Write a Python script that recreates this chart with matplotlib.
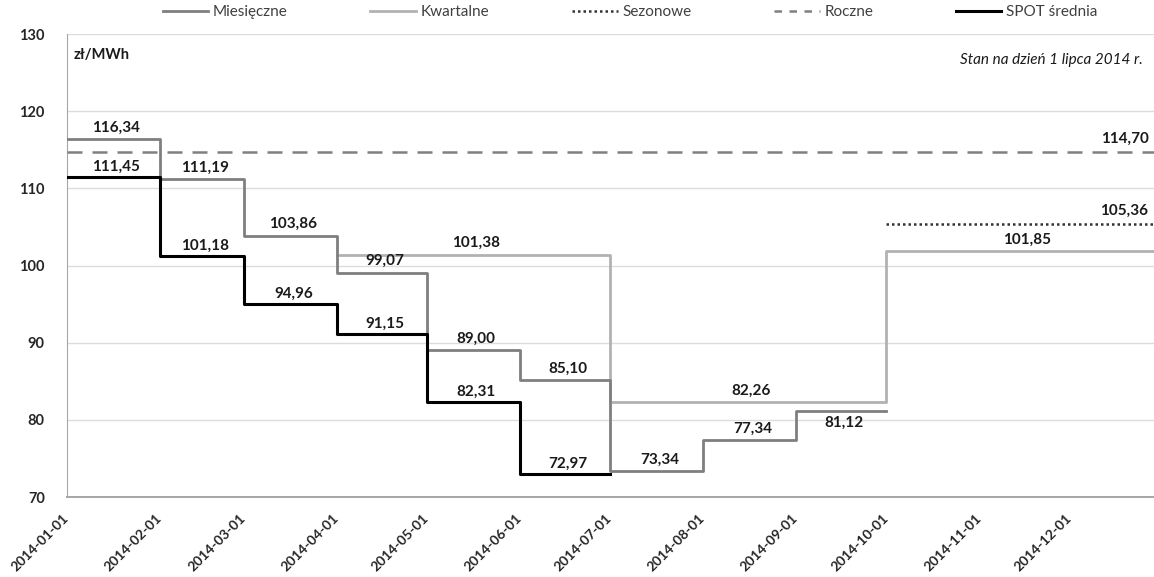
import datetime as dt
import matplotlib
matplotlib.use("Agg")
import matplotlib.pyplot as plt
import matplotlib.dates as mdates
from matplotlib.lines import Line2D

plt.rcParams['font.family'] = ['Lato', 'DejaVu Sans']

# ---------------- data ----------------
month_starts = ['2014-01-01', '2014-02-01', '2014-03-01', '2014-04-01', '2014-05-01',
                '2014-06-01', '2014-07-01', '2014-08-01', '2014-09-01', '2014-10-01']
monthly_vals = [116.34, 111.19, 103.86, 99.07, 89.00, 85.10, 73.34, 77.34, 81.12]
monthly_labels = ['116,34', '111,19', '103,86', '99,07', '89,00', '85,10', '73,34', '77,34', '81,12']

spot_starts = ['2014-01-01', '2014-02-01', '2014-03-01', '2014-04-01', '2014-05-01',
               '2014-06-01', '2014-07-01']
spot_vals = [111.45, 101.18, 94.96, 91.15, 82.31, 72.97]
spot_labels = ['111,45', '101,18', '94,96', '91,15', '82,31', '72,97']

quarter_starts = ['2014-04-01', '2014-07-01', '2014-10-01', '2015-01-01']
quarter_vals = [101.38, 82.26, 101.85]
quarter_labels = ['101,38', '82,26', '101,85']

season_starts = ['2014-10-01', '2015-01-01']
season_vals = [105.36]
season_labels = ['105,36']

annual_starts = ['2014-01-01', '2015-01-01']
annual_vals = [114.70]
annual_labels = ['114,70']

tick_dates = ['2014-01-01', '2014-02-01', '2014-03-01', '2014-04-01', '2014-05-01', '2014-06-01',
              '2014-07-01', '2014-08-01', '2014-09-01', '2014-10-01', '2014-11-01', '2014-12-01']
yticks = [70, 80, 90, 100, 110, 120, 130]

series_names = ['Miesięczne', 'Kwartalne', 'Sezonowe', 'Roczne', 'SPOT średnia']


def d(s):
    return dt.datetime.strptime(s, '%Y-%m-%d')


# ---------------- figure ----------------
fig = plt.figure(figsize=(11.54, 5.77), dpi=100)
W, H = 1154, 577
ax = fig.add_axes([67 / W, 80 / H, (W - 67) / W, (497 - 34) / H])

x_start = d('2014-01-01')
x_end = x_start + dt.timedelta(days=362.3)
ax.set_xlim(x_start, x_end)
ax.set_ylim(70, 130)


def step(ax, starts, vals, **kw):
    xs = [d(s) for s in starts]
    ys = list(vals) + [vals[-1]]
    return ax.step(xs, ys, where='post', **kw)[0]


def labels(ax, starts, vals, texts, dy=8.5, below=None):
    below = below or []
    for i, (v, t) in enumerate(zip(vals, texts)):
        a, b = d(starts[i]), d(starts[i + 1])
        mid = a + (b - a) / 2
        off = -dy if i in below else dy
        ax.annotate(t, (mid, v), xytext=(2, off), textcoords='offset points',
                    ha='center', va='center', fontsize=11, fontweight='bold',
                    color='#1a1a1a', zorder=6)


c_month = '#7f7f7f'
c_quarter = '#b2b2b2'
c_season = '#333333'
c_annual = '#808080'
c_spot = '#000000'

l_annual = step(ax, annual_starts, annual_vals, color=c_annual, lw=1.8,
                linestyle=(0, (6, 4)), zorder=3)
l_season = step(ax, season_starts, season_vals, color=c_season, lw=1.8,
                linestyle=(0, (1, 1.2)), zorder=3)
l_quarter = step(ax, quarter_starts, quarter_vals, color=c_quarter, lw=2.0, zorder=3)
l_month = step(ax, month_starts, monthly_vals, color=c_month, lw=2.0, zorder=4)
l_spot = step(ax, spot_starts, spot_vals, color=c_spot, lw=2.2, zorder=5)

labels(ax, month_starts, monthly_vals, monthly_labels, below=[8])
labels(ax, spot_starts, spot_vals, spot_labels, dy=7.5)
labels(ax, quarter_starts, quarter_vals, quarter_labels)

# right-end labels for seasonal and annual
for v, t in [(season_vals[0], season_labels[0]), (annual_vals[0], annual_labels[0])]:
    ax.annotate(t, (x_end, v), xytext=(-4, 9.5), textcoords='offset points',
                ha='right', va='center', fontsize=11, fontweight='bold', color='#1a1a1a')

# axes styling
ax.set_yticks(yticks)
ax.set_yticklabels([str(v) for v in yticks], fontweight='bold', fontsize=10.5, color='#262626')
ax.set_xticks([d(s) for s in tick_dates])
ax.set_xticklabels(tick_dates, rotation=45, ha='right', va='center', rotation_mode='anchor',
                   fontweight='bold', fontsize=10, color='#262626')
ax.tick_params(axis='y', length=0, pad=16)
ax.tick_params(axis='x', length=0, pad=14)
ax.grid(axis='y', color='#dcdcdc', lw=1.0, zorder=0)
ax.grid(axis='x', visible=False)
for s in ['top', 'right']:
    ax.spines[s].set_visible(False)
ax.spines['left'].set_color('#a6a6a6')
ax.spines['bottom'].set_color('#a6a6a6')
ax.spines['bottom'].set_linewidth(1.4)

ax.text(0.006, 0.955, 'zł/MWh', transform=ax.transAxes, fontsize=10.5, fontweight='bold',
        color='#1a1a1a', ha='left', va='center')
ax.text(0.99, 0.944, 'Stan na dzień 1 lipca 2014 r.', transform=ax.transAxes,
        fontsize=11, style='italic', color='#1a1a1a', ha='right', va='center')

handles = [Line2D([], [], color=c_month, lw=2.0),
           Line2D([], [], color=c_quarter, lw=2.0),
           Line2D([], [], color=c_season, lw=1.8, linestyle=(0, (1, 1.2))),
           Line2D([], [], color=c_annual, lw=1.8, linestyle=(0, (3, 3))),
           Line2D([], [], color=c_spot, lw=2.2)]
fig.legend(handles, series_names, loc='center', bbox_to_anchor=(630 / W, 1 - 12 / H),
           ncol=5, frameon=False, fontsize=11, handlelength=3.0, handletextpad=0.3,
           columnspacing=5.4, labelcolor='#404040')

fig.savefig('out.png', dpi=100)
